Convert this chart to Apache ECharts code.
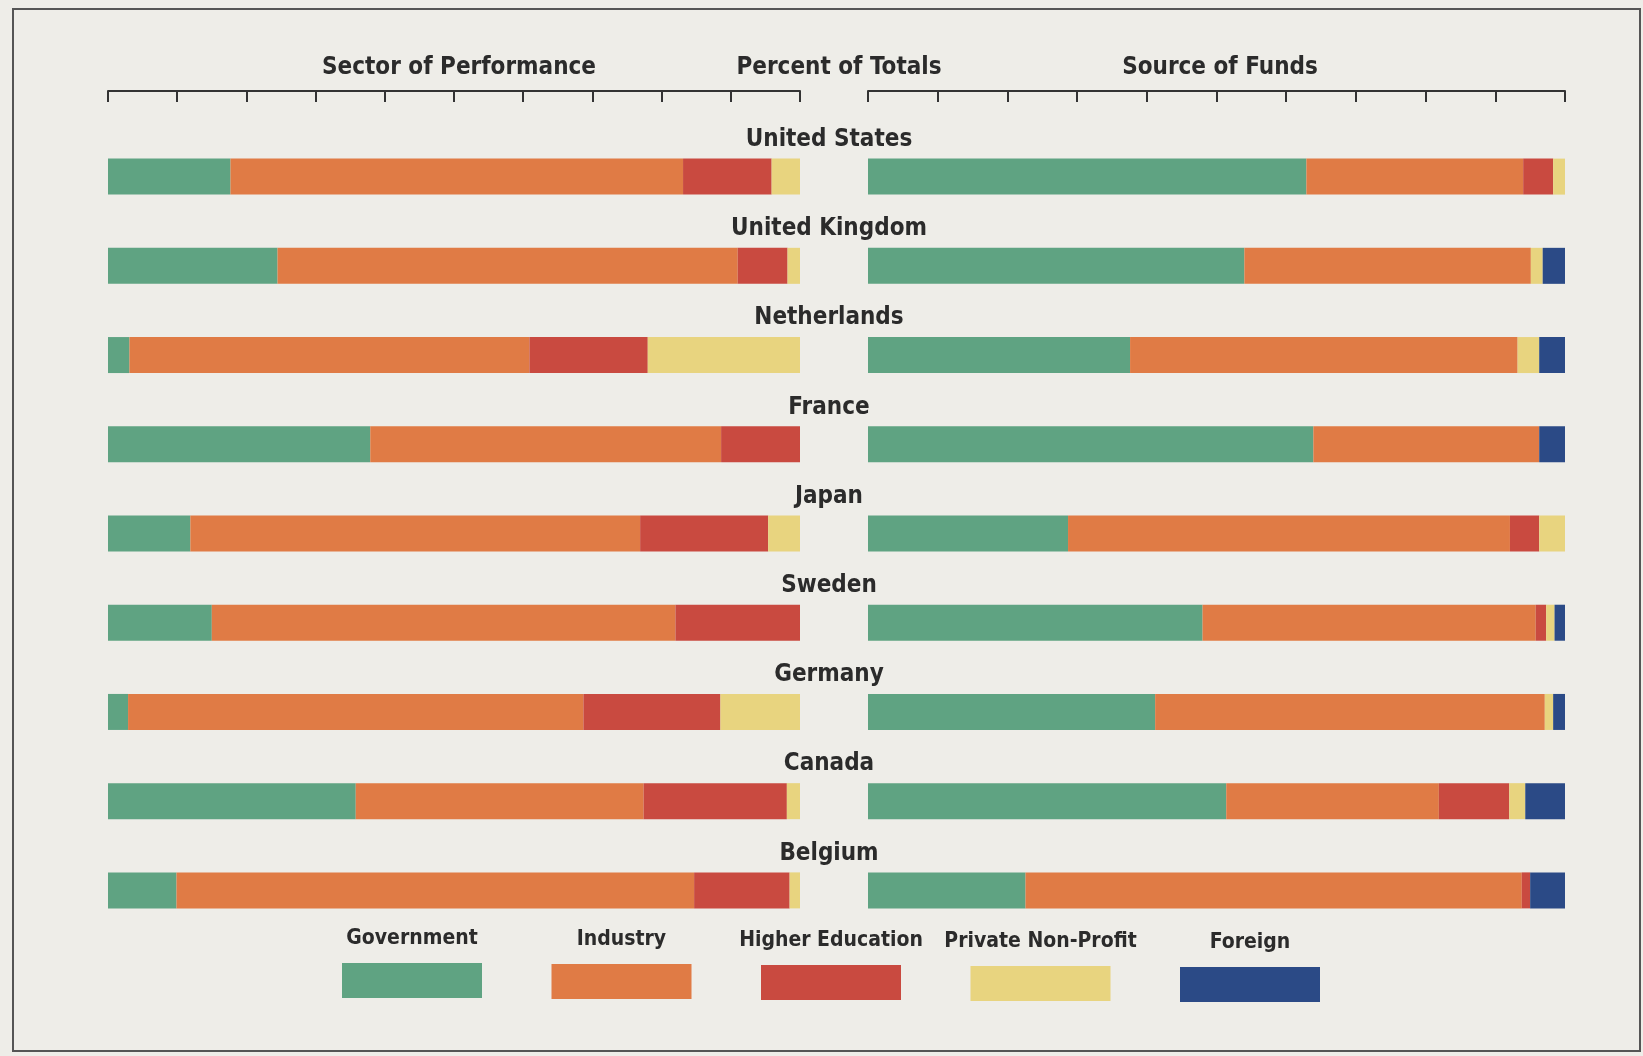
<!DOCTYPE html>
<html>
<head>
<meta charset="utf-8">
<script src="https://cdn.jsdelivr.net/npm/echarts@6/dist/echarts.min.js"></script>
<style>
    html, body { margin: 0; padding: 0; background: #eeede8; }
    #chart { width: 1643px; height: 1056px; }
</style>
</head>
<body>
<div id="chart"></div>
<script>
// countries, top to bottom
var countries = ["United States", "United Kingdom", "Netherlands", "France", "Japan", "Sweden", "Germany", "Canada", "Belgium"];
var sectors = ["Government", "Industry", "Higher Education", "Private Non-Profit", "Foreign"];
var colors = ["#5fa382", "#e07b45", "#c94a40", "#e8d47f", "#2b4a86"];

// Sector of Performance, percent of totals
var perfGov = [17.7, 24.5, 3.1, 37.9, 11.9, 15.0, 2.9, 35.8, 9.9];
var perfInd = [65.4, 66.5, 57.8, 50.7, 65.0, 67.0, 65.8, 41.6, 74.8];
var perfHigher = [12.8, 7.2, 17.1, 11.4, 18.5, 18.0, 19.8, 20.7, 13.8];
var perfNonProfit = [4.1, 1.8, 22.0, 0, 4.6, 0, 11.5, 1.9, 1.5];

// Source of Funds, percent of totals
var fundGov = [62.9, 54.0, 37.6, 63.9, 28.7, 48.0, 41.2, 51.4, 22.6];
var fundInd = [31.1, 41.1, 55.6, 32.4, 63.4, 47.8, 55.9, 30.5, 71.2];
var fundHigher = [4.3, 0, 0, 0, 4.2, 1.5, 0, 10.1, 1.2];
var fundNonProfit = [1.7, 1.7, 3.1, 0, 3.7, 1.2, 1.2, 2.3, 0];
var fundForeign = [0, 3.2, 3.7, 3.7, 0, 1.5, 1.7, 5.7, 5.0];

var perfSeries = [perfGov, perfInd, perfHigher, perfNonProfit];
var fundSeries = [fundGov, fundInd, fundHigher, fundNonProfit, fundForeign];

var font = "'DejaVu Sans Condensed', sans-serif";
var ink = "#2b2b2b";

var chartDom = document.getElementById("chart");
var myChart = echarts.init(chartDom);

function makeX(gridIndex) {
    return {
        type: "value",
        gridIndex: gridIndex,
        min: 0,
        max: 100,
        interval: 10,
        position: "top",
        offset: 41,
        axisLine: { show: true, lineStyle: { color: "#333", width: 2 } },
        axisTick: { show: true, inside: true, length: 11, lineStyle: { color: "#333", width: 2 } },
        axisLabel: { show: false },
        splitLine: { show: false }
    };
}

var series = [];
perfSeries.forEach(function (vals, i) {
    series.push({
        name: sectors[i],
        type: "bar",
        stack: "perf",
        xAxisIndex: 0,
        yAxisIndex: 0,
        barWidth: 36,
        itemStyle: { color: colors[i] },
        data: vals
    });
});
fundSeries.forEach(function (vals, i) {
    series.push({
        name: sectors[i],
        type: "bar",
        stack: "fund",
        xAxisIndex: 1,
        yAxisIndex: 1,
        barWidth: 36,
        itemStyle: { color: colors[i] },
        data: vals
    });
});

// legend drawn as label over swatch
var legendItems = [];
sectors.forEach(function (name, i) {
    var x = 342 + i * 209.5;
    legendItems.push({
        type: "text",
        x: x + 70,
        y: 939 + i,
        style: {
            text: name,
            fill: ink,
            font: "bold 21px " + font,
            textAlign: "center",
            textVerticalAlign: "middle"
        }
    });
    legendItems.push({
        type: "rect",
        shape: { x: x, y: 963 + i, width: 140, height: 35 },
        style: { fill: colors[i] }
    });
});

var titleStyle = { fontSize: 24, fontWeight: "bold", color: ink, fontFamily: font };

var option = {
    backgroundColor: "#eeede8",
    animation: false,
    textStyle: { fontFamily: font },
    grid: [
        { left: 108, width: 692, top: 132, height: 803 },
        { left: 868, width: 697, top: 132, height: 803 }
    ],
    xAxis: [makeX(0), makeX(1)],
    yAxis: [
        {
            type: "category",
            gridIndex: 0,
            data: countries,
            inverse: true,
            show: false
        },
        {
            type: "category",
            gridIndex: 1,
            data: countries,
            inverse: true,
            axisLine: { show: false },
            axisTick: { show: false },
            axisLabel: {
                margin: 39,
                align: "center",
                verticalAlign: "bottom",
                padding: [0, 0, 25, 0],
                color: ink,
                fontSize: 24,
                fontWeight: "bold",
                fontFamily: font
            }
        }
    ],
    title: [
        { text: "Sector of Performance", left: 454, top: 51, textAlign: "center", textStyle: titleStyle },
        { text: "Percent of Totals", left: 834, top: 51, textAlign: "center", textStyle: titleStyle },
        { text: "Source of Funds", left: 1215, top: 51, textAlign: "center", textStyle: titleStyle }
    ],
    graphic: [
        {
            type: "rect",
            shape: { x: 13, y: 9, width: 1627, height: 1042 },
            style: { fill: "none", stroke: "#555", lineWidth: 2 }
        }
    ].concat(legendItems),
    series: series
};
option && myChart.setOption(option);
</script>
</body>
</html>
